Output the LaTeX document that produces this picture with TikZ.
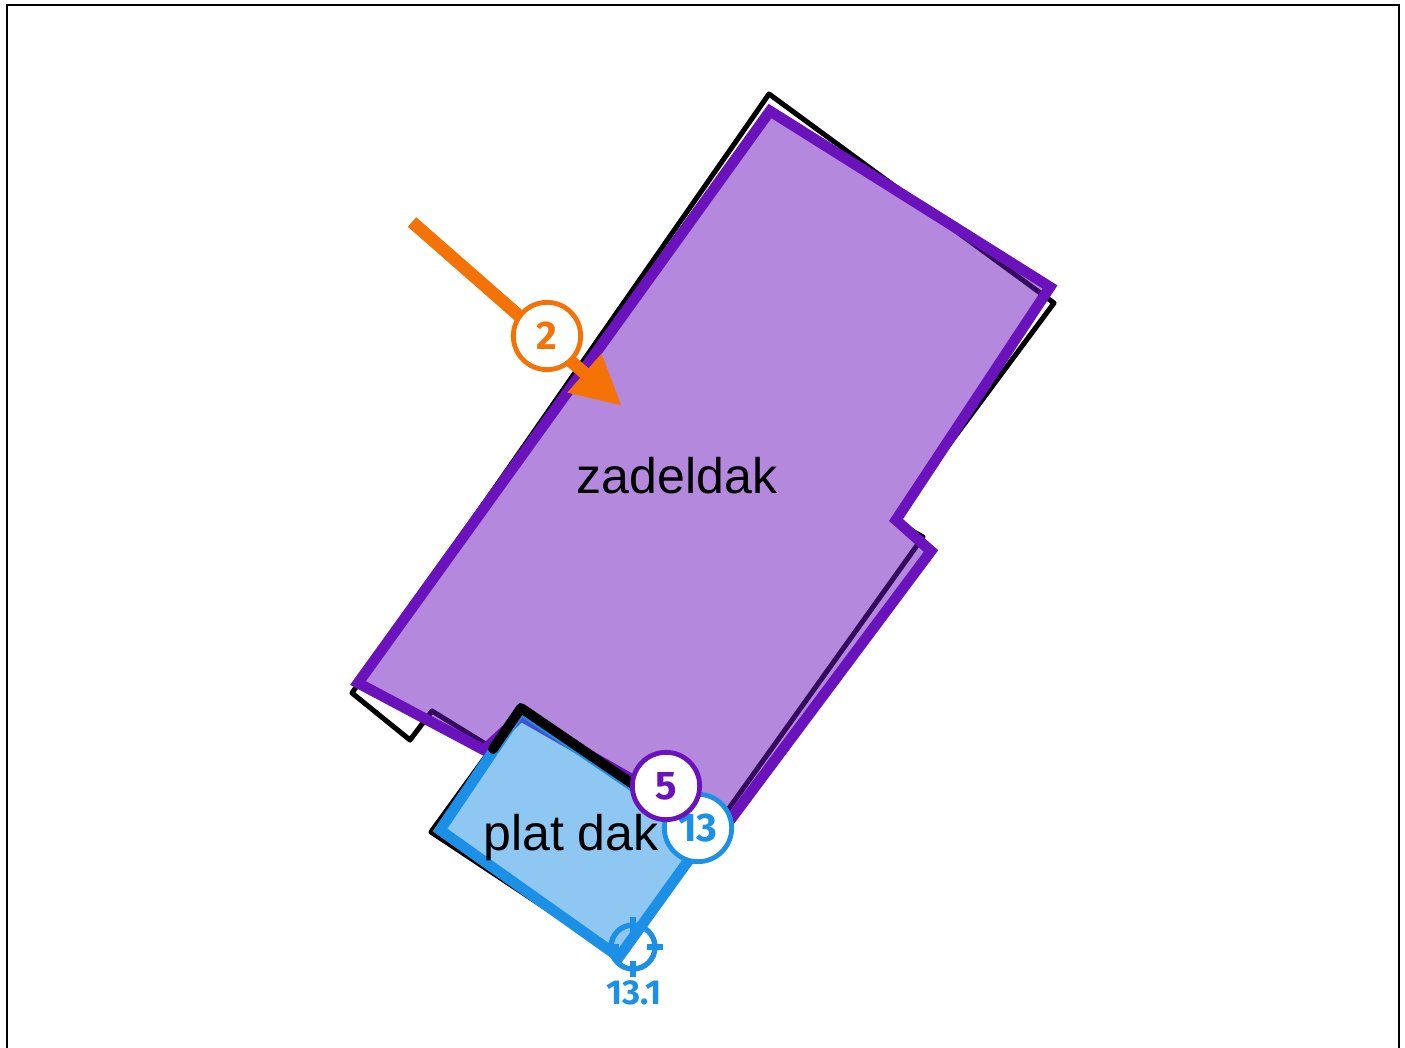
\documentclass[tikz,border=0pt]{standalone}
\usepackage{fontspec}
\setmainfont{Liberation Sans}
\newfontfamily\badgefont{Fira Sans}
\usetikzlibrary{arrows.meta}
\definecolor{roofpurple}{HTML}{6A12BC}
\definecolor{roofblue}{HTML}{1C90E6}
\definecolor{windorange}{HTML}{F57206}
\tikzset{
  outline/.style={draw=black, line width=3.8pt, line join=round},
  roof/.style={draw=#1, fill=#1, fill opacity=.5, draw opacity=1, line width=8pt, miter limit=10},
  badge/.style={circle, draw=#1, fill=white, text=#1, line width=3.6pt, minimum size=50.5pt, inner sep=0pt, font=\badgefont\bfseries\fontsize{30}{31}\selectfont},
  rooflabel/.style={font=\fontsize{37.5}{38}\selectfont, inner sep=0pt}
}
\begin{document}
\begin{tikzpicture}[x=.75pt, y=-.75pt]
    \useasboundingbox (0,0) rectangle (1405,1048);
    \draw[line width=2pt] (7,1048) -- (7,5) -- (1399,5) -- (1399,1048);

    \draw[outline] (769,94) -- (1054,303) -- (893,520) -- (923,537) -- (692,860) -- (618,956)
        -- (431,832) -- (492,748) -- (432,711) -- (410,740) -- (352,693) -- cycle;

    \draw[roof=roofpurple] (770,111) -- (1050,287) -- (896,520) -- (931,551) -- (722,831)
        -- (521,716) -- (484,750) -- (358,683) -- cycle;
    \draw[roof=roofblue] (521,710) -- (706,836) -- (619,957) -- (440,830) -- cycle;
    \draw[line width=7.4pt, line cap=round, line join=round] (493,749) -- (521,708) -- (640,789);

    % wind direction
    \coordinate (windstart) at (412,222);
    \coordinate (windtip) at (622,406);
    \draw[windorange, line width=9.5pt, -{Triangle[length=37.5pt, width=36pt]}] (windstart) -- (windtip);

    % corner marker
    \coordinate (corner) at (633,947);
    \draw[roofblue, line width=4pt] (corner) circle (22);
    \foreach \ang in {0,90,180,270}
        \draw[roofblue, line width=4pt] (corner) ++(\ang:14) -- ++(\ang:16);

    \node[rooflabel] (zadeldak) at (677,476) {zadeldak};
    \node[rooflabel] (platdak) at (571,838) {plat dak};

    \node[badge=windorange] (b2) at (547,336) {2};
    \node[badge=roofblue] (b13) at (698,828) {13};
    \node[badge=roofpurple] (b5) at (666,786) {5};
    \node[text=roofblue, inner sep=0pt, font=\badgefont\bfseries\fontsize{26}{27}\selectfont] (b131) at (634,993) {13.1};
\end{tikzpicture}
\end{document}
